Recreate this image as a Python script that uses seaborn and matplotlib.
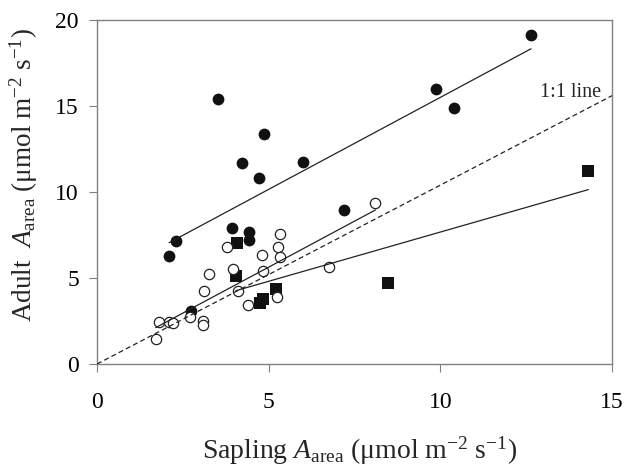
import numpy as np
import matplotlib
matplotlib.use("Agg")
import matplotlib.pyplot as plt
import seaborn as sns

# filled circles
sapling_filled = [3.51, 4.87, 4.22, 4.72, 5.99, 12.64, 9.88, 10.40, 2.29, 2.10,
                  3.94, 4.44, 4.44, 7.18, 2.73]
adult_filled = [15.40, 13.40, 11.70, 10.80, 11.76, 19.10, 15.97, 14.90, 7.15, 6.28,
                7.89, 7.65, 7.20, 8.95, 3.08]

# open circles
sapling_open = [5.34, 3.79, 5.28, 5.33, 4.80, 3.26, 3.96, 4.84, 3.11, 4.10, 5.24,
                4.40, 2.71, 1.80, 2.10, 2.20, 3.10, 3.10, 1.71, 8.11, 6.75]
adult_open = [7.53, 6.78, 6.80, 6.22, 6.36, 5.21, 5.50, 5.43, 4.24, 4.24, 3.91,
              3.43, 2.75, 2.46, 2.46, 2.36, 2.50, 2.27, 1.43, 9.38, 5.66]

# squares
sapling_square = [4.08, 4.04, 5.20, 4.76, 4.82, 8.48, 14.31]
adult_square = [7.05, 5.13, 4.36, 3.52, 3.75, 4.73, 11.24]

# dashed reference line as drawn in the figure
ref_x = [0, 15]
ref_y = [0, 15.6]

sns.set_style("ticks")
plt.rcParams['font.family'] = ['Liberation Serif', 'DejaVu Serif']
plt.rcParams['mathtext.fontset'] = 'custom'
plt.rcParams['mathtext.rm'] = 'Liberation Serif'
plt.rcParams['mathtext.it'] = 'Liberation Serif:italic'

fig = plt.figure(figsize=(6.26, 4.67), dpi=100)
ax = fig.add_axes([0.155, 0.2206, 0.8227, 0.7366])

sns.scatterplot(x=sapling_filled, y=adult_filled, marker='o', s=72,
                color='#111111', linewidth=0, ax=ax, zorder=3)
sns.scatterplot(x=sapling_square, y=adult_square, marker='s', s=68,
                color='#111111', linewidth=0, ax=ax, zorder=3)
sns.scatterplot(x=sapling_open, y=adult_open, marker='o', s=55,
                facecolor='white', edgecolor='#222222', linewidth=0.9, ax=ax, zorder=4)

line_kws = dict(color='#222222', linewidth=0.9, zorder=5)
sns.regplot(x=np.array(sapling_filled), y=np.array(adult_filled), scatter=False,
            ci=None, truncate=True, line_kws=line_kws, ax=ax)
sns.regplot(x=np.array(sapling_open), y=np.array(adult_open), scatter=False,
            ci=None, truncate=True, line_kws=line_kws, ax=ax)
sns.regplot(x=np.array(sapling_square), y=np.array(adult_square), scatter=False,
            ci=None, truncate=True, line_kws=line_kws, ax=ax)

ax.plot(ref_x, ref_y, color='#222222', linewidth=0.9, dashes=(4, 2.5), zorder=5)
ax.text(13.78, 15.76, '1:1 line', fontsize=14.5, ha='center', va='center')

ax.set_xlim(0, 15)
ax.set_ylim(0, 20)
ax.set_xticks([0, 5, 10, 15])
ax.set_yticks([0, 5, 10, 15, 20])

for side in ['top', 'right', 'left', 'bottom']:
    ax.spines[side].set_visible(True)
    ax.spines[side].set_color('#808080')
    ax.spines[side].set_linewidth(1.0)
ax.tick_params(axis='both', direction='out', length=6, width=0.8, color='#808080',
               labelsize=17, labelcolor='black')
ax.tick_params(axis='x', pad=14)
ax.tick_params(axis='y', pad=7)

ax.set_xlabel(r'Sapling $\mathit{A}_{\mathrm{area}}$ (μmol m$^{-2}$ s$^{-1}$)', fontsize=20)
ax.set_ylabel(r'Adult  $\mathit{A}_{\mathrm{area}}$ (μmol m$^{-2}$ s$^{-1}$)', fontsize=19.5)
ax.xaxis.set_label_coords(0.51, -0.205)
ax.yaxis.set_label_coords(-0.11, 0.55)

fig.savefig('out.png', dpi=100)
